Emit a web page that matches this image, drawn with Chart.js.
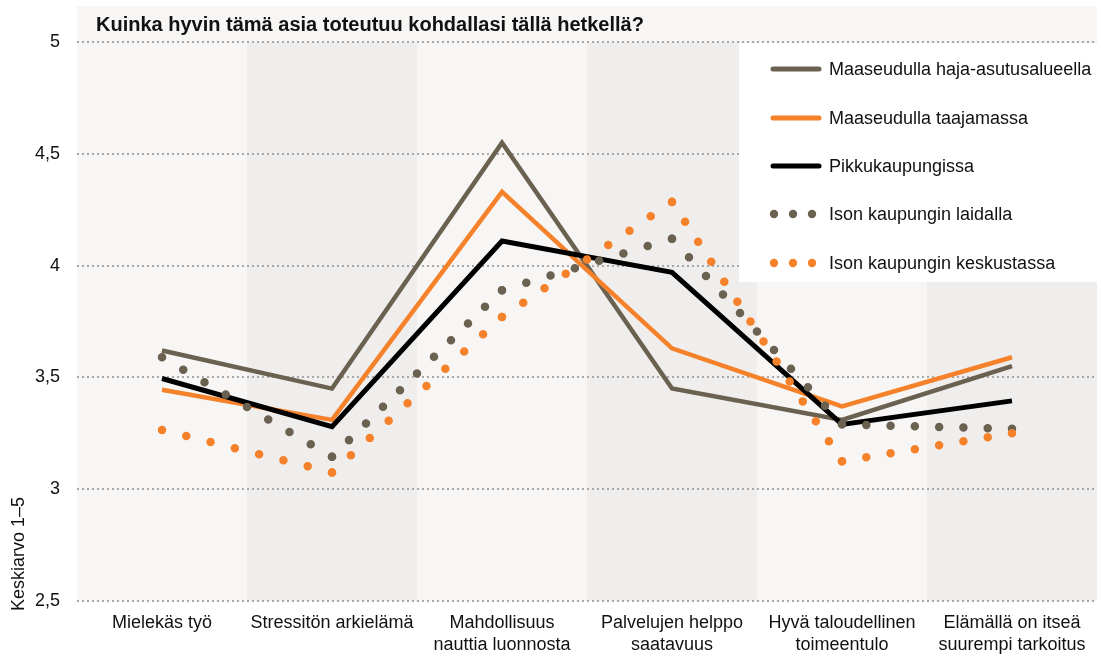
<!DOCTYPE html>
<html>
<head>
<meta charset="utf-8">
<script src="https://cdn.jsdelivr.net/npm/chart.js@4/dist/chart.umd.min.js"></script>
<style>
html,body{margin:0;padding:0;background:#fff;}
#wrap{width:1101px;height:659px;}
</style>
</head>
<body>
<div id="wrap"><canvas id="c" width="1101" height="659"></canvas></div>
<script>
const title = "Kuinka hyvin tämä asia toteutuu kohdallasi tällä hetkellä?";
const yAxisTitle = "Keskiarvo 1–5";
const categories = [
  ["Mielekäs työ"],
  ["Stressitön arkielämä"],
  ["Mahdollisuus", "nauttia luonnosta"],
  ["Palvelujen helppo", "saatavuus"],
  ["Hyvä taloudellinen", "toimeentulo"],
  ["Elämällä on itseä", "suurempi tarkoitus"]
];
const seriesNames = [
  "Maaseudulla haja-asutusalueella",
  "Maaseudulla taajamassa",
  "Pikkukaupungissa",
  "Ison kaupungin laidalla",
  "Ison kaupungin keskustassa"
];
const hajaAsutus = [3.62, 3.45, 4.55, 3.45, 3.31, 3.55];
const taajama = [3.445, 3.31, 4.33, 3.63, 3.37, 3.59];
const pikkukaupunki = [3.495, 3.28, 4.11, 3.97, 3.29, 3.395];
const laidalla = [3.59, 3.145, 3.89, 4.12, 3.29, 3.27];
const keskusta = [3.265, 3.075, 3.77, 4.285, 3.125, 3.25];
const yTicks = [2.5, 3, 3.5, 4, 4.5, 5];

const BROWN = "#6b6150";
const ORANGE = "#f5822a";
const BLACK = "#000000";
const LIGHT = "#f7f6f4";
const DARK = "#efeeed";
const FONT = "'Liberation Sans', Arial, sans-serif";

function dotDash(ctx) {
  const dx = ctx.p1.x - ctx.p0.x, dy = ctx.p1.y - ctx.p0.y;
  const len = Math.hypot(dx, dy);
  const n = Math.max(1, Math.round(len / 24.5));
  return [0, len / n - 0.002];
}

const styles = [
  {color: BROWN, width: 4.5, dotted: false, order: 4},
  {color: ORANGE, width: 4.5, dotted: false, order: 3},
  {color: BLACK, width: 5, dotted: false, order: 2},
  {color: BROWN, width: 8.5, dotted: true, order: 1},
  {color: ORANGE, width: 8.5, dotted: true, order: 0}
];
const allData = [hajaAsutus, taajama, pikkukaupunki, laidalla, keskusta];

const datasets = allData.map((d, i) => {
  const s = styles[i];
  const ds = {
    label: seriesNames[i],
    data: d,
    borderColor: s.color,
    backgroundColor: s.color,
    borderWidth: s.width,
    pointRadius: 0,
    pointHoverRadius: 0,
    tension: 0,
    fill: false,
    order: s.order,
    borderJoinStyle: 'miter',
    borderCapStyle: s.dotted ? 'round' : 'butt'
  };
  if (s.dotted) {
    ds.segment = { borderDash: dotDash };
  }
  return ds;
});

const decor = {
  id: 'decor',
  beforeDraw(chart) {
    const {ctx, chartArea: a, scales: {x}} = chart;
    ctx.save();
    ctx.fillStyle = LIGHT;
    ctx.fillRect(a.left, 6, a.right - a.left, a.top - 6);
    const n = categories.length;
    const w = (a.right - a.left) / n;
    for (let i = 0; i < n; i++) {
      ctx.fillStyle = i % 2 === 0 ? LIGHT : DARK;
      const cx = x.getPixelForValue(i);
      ctx.fillRect(cx - w / 2, a.top, w, a.bottom - a.top);
    }
    // title
    ctx.fillStyle = "#111";
    ctx.font = "bold 20px " + FONT;
    ctx.textBaseline = "middle";
    ctx.textAlign = "left";
    ctx.fillText(title, a.left + 19, 25);
    // y axis title
    ctx.translate(19, 554);
    ctx.rotate(-Math.PI / 2);
    ctx.font = "18px " + FONT;
    ctx.textAlign = "center";
    ctx.fillStyle = "#111";
    ctx.fillText(yAxisTitle, 0, 0);
    ctx.restore();
  },
  beforeDatasetsDraw(chart) {
    const {ctx, chartArea: a} = chart;
    ctx.save();
    const bx = 739, by = a.top + 1, bw = a.right - bx, bh = 282 - by;
    ctx.fillStyle = "#ffffff";
    ctx.fillRect(bx, by, bw, bh);
    const rows = [69, 118, 166, 214, 263];
    ctx.font = "18px " + FONT;
    ctx.textBaseline = "middle";
    ctx.textAlign = "left";
    for (let i = 0; i < 5; i++) {
      const s = styles[i];
      const y = rows[i];
      ctx.strokeStyle = s.color;
      ctx.fillStyle = s.color;
      if (s.dotted) {
        for (let k = 0; k < 3; k++) {
          ctx.beginPath();
          ctx.arc(774 + k * 19, y, 4.2, 0, Math.PI * 2);
          ctx.fill();
        }
      } else {
        ctx.lineWidth = 5;
        ctx.lineCap = 'round';
        ctx.beginPath();
        ctx.moveTo(773, y);
        ctx.lineTo(819, y);
        ctx.stroke();
      }
      ctx.fillStyle = "#111";
      ctx.fillText(seriesNames[i], 829, y + 1);
    }
    ctx.restore();
  }
};

new Chart(document.getElementById('c'), {
  type: 'line',
  data: { labels: categories, datasets },
  options: {
    responsive: false,
    animation: false,
    devicePixelRatio: 1,
    layout: { padding: { top: 42, right: 4, left: 0, bottom: 0 } },
    plugins: { legend: { display: false }, tooltip: { enabled: false }, title: { display: false } },
    scales: {
      x: {
        offset: true,
        grid: { display: false, drawTicks: false },
        border: { display: false },
        ticks: {
          color: "#111",
          font: { family: FONT, size: 18, lineHeight: 1.23 },
          padding: 11,
          maxRotation: 0,
          autoSkip: false
        },
        afterFit(scale) { scale.height = 58; }
      },
      y: {
        min: 2.5,
        max: 5,
        afterBuildTicks(scale) { scale.ticks = yTicks.map(v => ({ value: v })); },
        grid: {
          color: "#a8a8a8",
          lineWidth: 2,
          drawTicks: false
        },
        border: { display: false, dash: [2, 3] },
        ticks: {
          color: "#111",
          font: { family: FONT, size: 18 },
          padding: 17,
          callback: v => String(v).replace('.', ',')
        },
        afterFit(scale) { scale.width = 77; }
      }
    }
  },
  plugins: [decor]
});
</script>
</body>
</html>
